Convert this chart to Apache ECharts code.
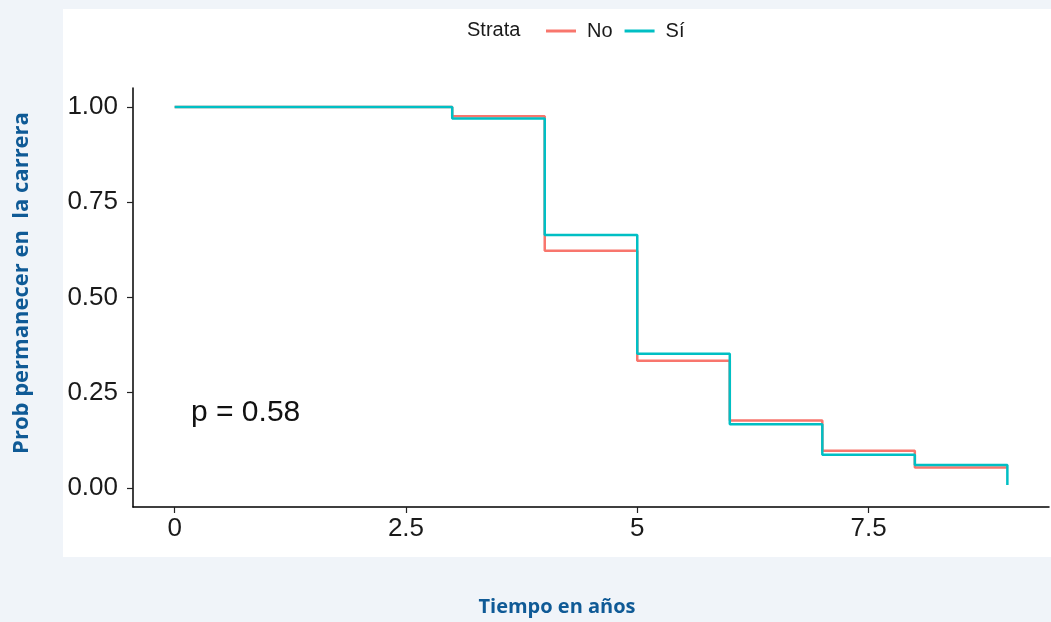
<!DOCTYPE html>
<html>
<head>
<meta charset="utf-8">
<script src="https://cdn.jsdelivr.net/npm/echarts@6/dist/echarts.min.js"></script>
<style>
html,body{margin:0;padding:0;background:#f0f4f9;}
#c{width:1051px;height:622px;}
</style>
</head>
<body>
<div id="c"></div>
<script>
const strata = ['No', 'Sí'];
const times = [0, 3, 4, 5, 6, 7, 8, 9];
const survNo = [1.0, 0.976, 0.623, 0.334, 0.177, 0.098, 0.054, 0.054];
const survSi = [1.0, 0.970, 0.664, 0.352, 0.167, 0.087, 0.060, 0.008];
const xTicks = [0, 2.5, 5, 7.5];
const yTicks = [0, 0.25, 0.5, 0.75, 1];
const pText = 'p = 0.58';
const xTitle = 'Tiempo en años';
const yTitle = 'Prob permanecer en  la carrera';

const colors = ['#F8766D', '#00BFC4'];
const chart = echarts.init(document.getElementById('c'));
const tickFont = {fontFamily: 'Liberation Sans, Arial, sans-serif', fontSize: 26, color: '#1a1a1a'};

chart.setOption({
  backgroundColor: '#f0f4f9',
  animation: false,
  color: colors,
  grid: {left: 133, right: 2, top: 88, bottom: 115},
  legend: {
    data: strata,
    top: 16, left: 541,
    itemWidth: 30, itemHeight: 3, itemGap: 12,
    icon: 'rect',
    textStyle: {fontFamily: 'Liberation Sans, Arial, sans-serif', fontSize: 20, color: '#1a1a1a', padding: [0, 0, 0, 6]}
  },
  xAxis: {
    type: 'value', min: -0.45, max: 9.45,
    axisLine: {show: true, onZero: false, lineStyle: {color: '#000', width: 1.5}},
    axisTick: {show: true, customValues: xTicks, length: 6, lineStyle: {color: '#222', width: 1.2}},
    axisLabel: Object.assign({customValues: xTicks, margin: 9}, tickFont),
    splitLine: {show: false}
  },
  yAxis: {
    type: 'value', min: -0.05, max: 1.05,
    axisLine: {show: true, onZero: false, lineStyle: {color: '#000', width: 1.5}},
    axisTick: {show: true, customValues: yTicks, length: 6, lineStyle: {color: '#222', width: 1.2}},
    axisLabel: Object.assign({customValues: yTicks, margin: 15, formatter: v => v.toFixed(2)}, tickFont),
    splitLine: {show: false}
  },
  graphic: [
    {type: 'rect', z: -10, shape: {x: 63, y: 9, width: 988, height: 548}, style: {fill: '#ffffff'}},
    {type: 'text', left: 467, top: 20, style: {text: 'Strata', font: '20px "Liberation Sans", Arial, sans-serif', fill: '#1a1a1a'}},
    {type: 'text', x: 191, y: 413, style: {text: pText, font: '30px "Liberation Sans", Arial, sans-serif', fill: '#111', verticalAlign: 'middle'}},
    {type: 'text', x: 557, y: 607, style: {text: xTitle, font: 'bold 20px "Open Sans", sans-serif', fill: '#0f5a96', align: 'center', verticalAlign: 'middle'}},
    {type: 'text', x: 22, y: 283, rotation: Math.PI / 2, style: {text: yTitle, font: 'bold 22px "Open Sans", sans-serif', fill: '#0f5a96', align: 'center', verticalAlign: 'middle'}}
  ],
  series: [
    {name: strata[0], type: 'line', step: 'end', symbol: 'none', data: times.map((t, i) => [t, survNo[i]]), lineStyle: {width: 2.5}, z: 2},
    {name: strata[1], type: 'line', step: 'end', symbol: 'none', data: times.map((t, i) => [t, survSi[i]]), lineStyle: {width: 2.5}, z: 3}
  ]
});
</script>
</body>
</html>
